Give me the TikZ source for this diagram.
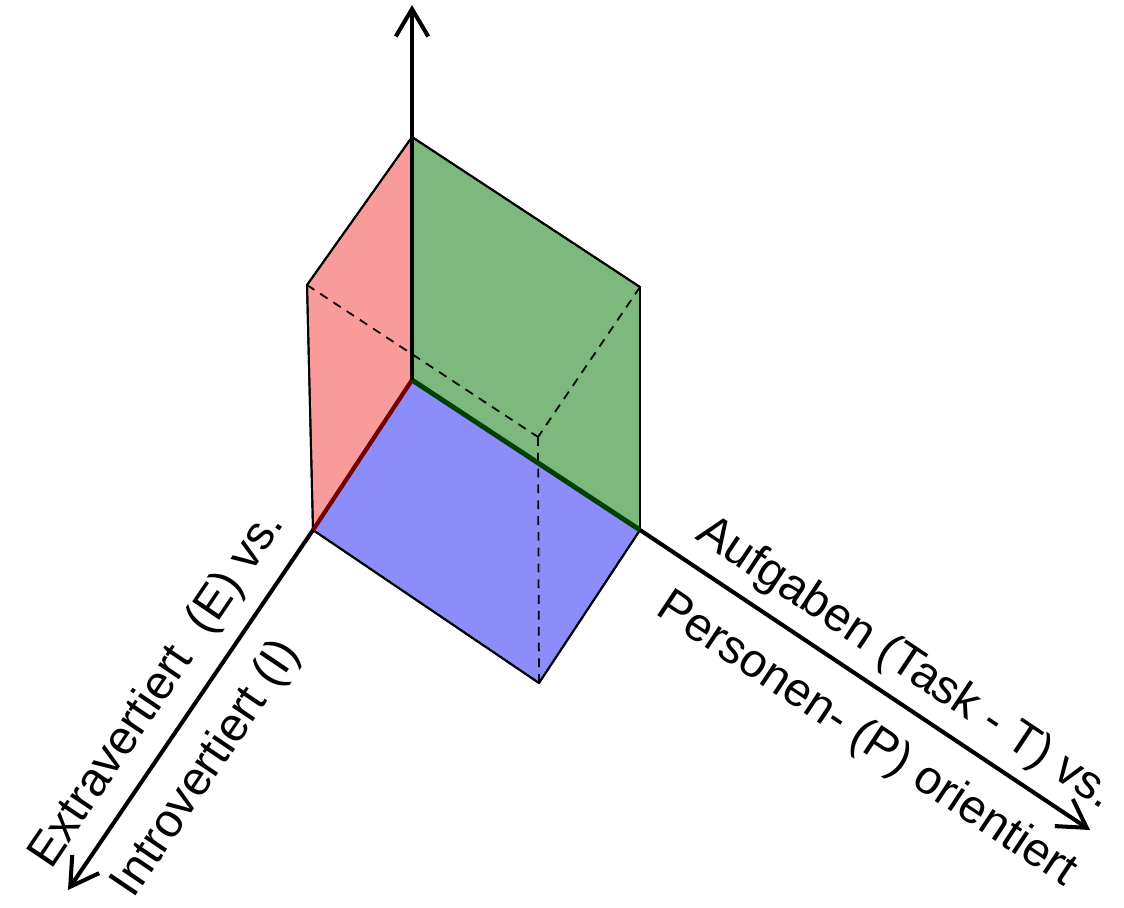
\documentclass[tikz,border=0pt]{standalone}
\usepackage{fontspec}
\setmainfont{Liberation Sans}
\usetikzlibrary{arrows.meta}
\definecolor{redface}{RGB}{250,155,155}
\definecolor{greenface}{RGB}{125,185,125}
\definecolor{blueface}{RGB}{140,140,250}
\begin{document}
\begin{tikzpicture}[x=0.02cm, y=-0.02cm,
    face/.style={draw=black, line width=1.1pt, line join=round},
    hidden/.style={dashed, line width=1pt, dash pattern=on 5pt off 4pt},
    axis/.style={line width=2.3pt, -{Straight Barb[length=5.5mm, width=6.5mm, line width=2.3pt]}},
    axislabel/.style={font=\fontsize{27}{32}\selectfont, inner sep=0pt}]
    \useasboundingbox (0,0) rectangle (1124,907);

    % corners of the box
    \coordinate (O) at (412,380);
    \coordinate (a) at (313,530);
    \coordinate (b) at (640,530);
    \coordinate (c) at (412,137);
    \coordinate (ab) at (539,683);
    \coordinate (ac) at (307,285);
    \coordinate (bc) at (640,287);
    \coordinate (abc) at (538,437);

    % the three faces
    \fill[face, fill=redface] (O) -- (a) -- (ac) -- (c) -- cycle;
    \fill[face, fill=greenface] (O) -- (b) -- (bc) -- (c) -- cycle;
    \fill[face, fill=blueface] (O) -- (a) -- (ab) -- (b) -- cycle;
    \draw[face] (O) -- (a) -- (ac) -- (c);
    \draw[face] (O) -- (b) -- (bc) -- (c);
    \draw[face] (a) -- (ab) -- (b);

    % hidden edges
    \draw[hidden] (ac) -- (abc);
    \draw[hidden] (bc) -- (abc);
    \draw[hidden] (abc) -- (ab);

    % shared edges
    \draw[line width=2.4pt, red!45!black] (O) -- (a);
    \draw[line width=2.8pt, green!25!black] (O) -- (b);

    % axes
    \coordinate (top) at (412,5);
    \coordinate (left) at (68,890);
    \coordinate (right) at (1090,830);
    \draw[axis] (O) -- (top);
    \draw[axis] (a) -- (left);
    \draw[axis] (b) -- (right);

    % labels
    \node[axislabel, rotate=-33.7] (task) at (905,664) {Aufgaben (Task - T) vs.};
    \node[axislabel, rotate=-33.7] (person) at (866,740) {Personen- (P) orientiert};
    \node[axislabel, rotate=56] (extra) at (158,690) {Extravertiert\ \ (E) vs.};
    \node[axislabel, rotate=56] (intro) at (207,769) {Introvertiert (I)};
\end{tikzpicture}
\end{document}
